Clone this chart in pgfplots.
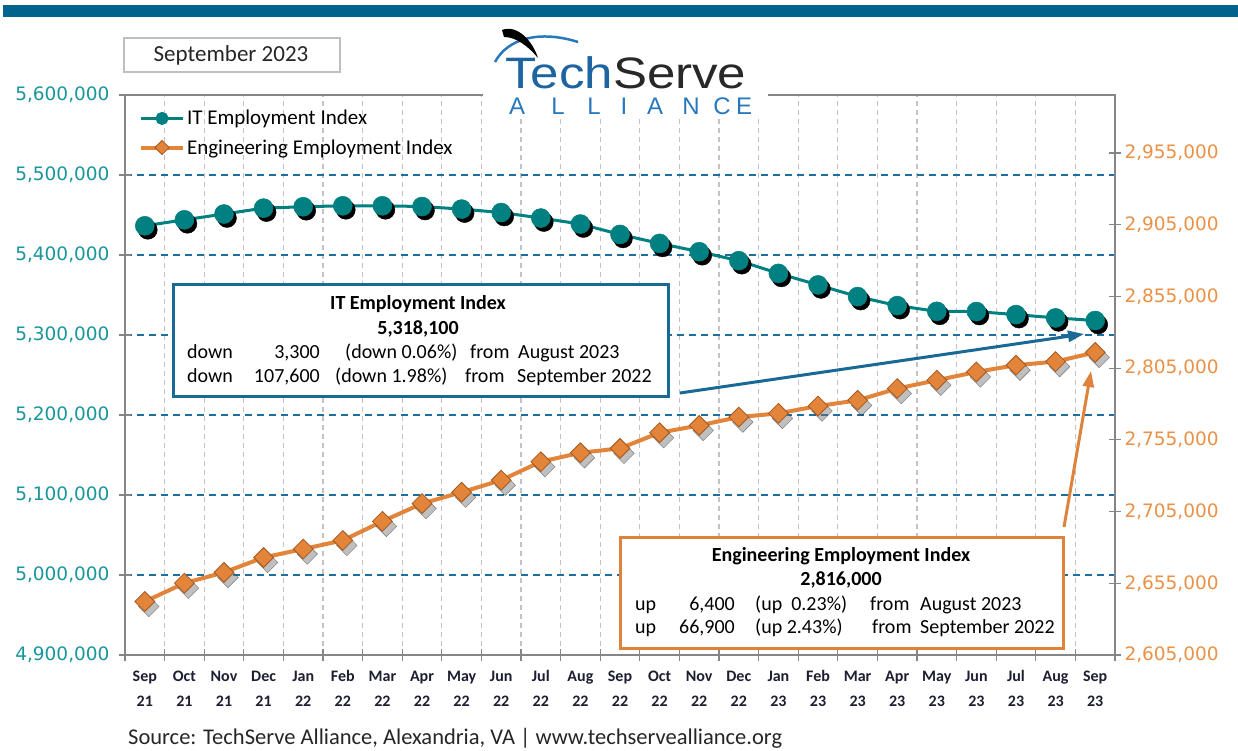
\documentclass[border=0pt]{standalone}
\usepackage{fontspec}
\setmainfont{Carlito}
\newfontfamily\tickfont{DejaVu Sans}
\newfontfamily\logofont{Liberation Sans}
\usepackage{pgfplots}
\pgfplotsset{compat=1.18}
\usepackage{pgfplotstable}
\usetikzlibrary{arrows.meta}

\definecolor{itteal}{RGB}{0,128,128}
\definecolor{engorange}{RGB}{226,132,58}
\definecolor{engdark}{RGB}{165,88,30}
\definecolor{gridblue}{RGB}{30,110,160}
\definecolor{axisgray}{RGB}{134,134,134}
\definecolor{vgrid}{RGB}{195,195,195}
\definecolor{lefttick}{RGB}{25,150,155}
\definecolor{righttick}{RGB}{235,145,70}
\definecolor{barblue}{RGB}{0,100,140}
\definecolor{boxblue}{RGB}{25,105,150}
\definecolor{boxorange}{RGB}{222,130,60}
\definecolor{logoblue}{RGB}{30,100,160}
\definecolor{logoblue2}{RGB}{40,120,190}
\definecolor{logodark}{RGB}{40,40,40}
\definecolor{xlab}{RGB}{30,30,50}

\newcommand\ml[2]{\vphantom{Abdl}#1\\#2}

\pgfplotstableread{
x y
0 5436500
1 5444000
2 5451200
3 5458600
4 5460300
5 5461500
6 5461500
7 5460600
8 5457400
9 5453100
10 5446200
11 5438700
12 5425700
13 5414500
14 5404100
15 5392900
16 5377000
17 5362600
18 5348000
19 5336700
20 5329600
21 5329300
22 5325500
23 5321400
24 5318100
}\itdata

\pgfplotstableread{
x y
0 2642300
1 2655100
2 2662600
3 2673000
4 2678900
5 2684900
6 2698200
7 2710600
8 2718500
9 2726900
10 2739800
11 2746000
12 2749100
13 2760000
14 2765100
15 2770900
16 2773500
17 2778600
18 2782600
19 2790800
20 2796600
21 2802400
22 2807100
23 2809600
24 2816000
}\engdata

\begin{document}
\begin{tikzpicture}
\begin{scope}[x=1pt,y=1pt]
\path[use as bounding box, fill=white] (0,0) rectangle (1238,750);
\fill[barblue] (3,733) rectangle (1238,745);
\draw[line width=1.2pt, draw=black!25, fill=white] (124,678) rectangle (340,712);
\node[font=\fontsize{23}{27}\selectfont, text=black!85] at (231,695) {September 2023};
\end{scope}

\begin{axis}[
  at={(125pt,95pt)}, anchor=south west, scale only axis,
  width=990pt, height=560pt,
  xmin=-0.5, xmax=24.5, ymin=4900000, ymax=5600000,
  xtick={-0.5,0.5,...,24.5}, xticklabels={},
  extra x ticks={0,1,...,24},
  extra x tick labels={{\ml{Sep}{21}},{\ml{Oct}{21}},{\ml{Nov}{21}},{\ml{Dec}{21}},{\ml{Jan}{22}},{\ml{Feb}{22}},{\ml{Mar}{22}},{\ml{Apr}{22}},{\ml{May}{22}},{\ml{Jun}{22}},{\ml{Jul}{22}},{\ml{Aug}{22}},{\ml{Sep}{22}},{\ml{Oct}{22}},{\ml{Nov}{22}},{\ml{Dec}{22}},{\ml{Jan}{23}},{\ml{Feb}{23}},{\ml{Mar}{23}},{\ml{Apr}{23}},{\ml{May}{23}},{\ml{Jun}{23}},{\ml{Jul}{23}},{\ml{Aug}{23}},{\ml{Sep}{23}}},
  extra x tick style={grid=none, major tick length=0pt},
  xticklabel style={align=center, font=\bfseries\fontsize{16}{25}\selectfont, text=xlab, yshift=-12pt},
  ytick={4900000,5000000,5100000,5200000,5300000,5400000,5500000,5600000},
  scaled y ticks=false,
  /pgf/number format/assume math mode=true,
  yticklabel style={/pgf/number format/fixed, /pgf/number format/precision=0, /pgf/number format/1000 sep={,}, font=\tickfont\fontsize{18.5}{22}\selectfont, text=lefttick, xshift=-6pt},
  xtick pos=bottom, ytick pos=left,
  tick align=center, major tick length=12pt,
  tick style={axisgray, line width=1.2pt},
  axis line style={axisgray, line width=1.8pt},
  xmajorgrids=true, ymajorgrids=true,
  x grid style={vgrid, line width=1.1pt, dash pattern=on 5pt off 4pt},
  y grid style={gridblue, line width=1.5pt, dash pattern=on 7pt off 5pt},
]
\addplot[forget plot, only marks, mark=*, mark size=9.5pt, mark options={fill=black, draw=black}, xshift=3pt, yshift=-4pt] table[x=x,y=y] {\itdata};
\addplot[itteal, line width=3pt, mark=*, mark size=9.5pt, mark options={fill=itteal, draw=itteal, line width=0.5pt}] table[x=x,y=y] {\itdata};
\end{axis}

\begin{axis}[
  at={(125pt,95pt)}, anchor=south west, scale only axis,
  width=990pt, height=560pt,
  xmin=-0.5, xmax=24.5, ymin=2605000, ymax=2995500,
  axis x line=none, axis y line*=right,
  ytick={2605000,2655000,2705000,2755000,2805000,2855000,2905000,2955000},
  scaled y ticks=false,
  /pgf/number format/assume math mode=true,
  yticklabel style={/pgf/number format/fixed, /pgf/number format/precision=0, /pgf/number format/1000 sep={,}, font=\tickfont\fontsize{18.5}{22}\selectfont, text=righttick},
  tick align=center, major tick length=12pt,
  tick style={axisgray, line width=1.2pt},
  axis line style={axisgray, line width=1.8pt},
  legend style={at={(0.012,0.98)}, anchor=north west, draw=none, fill=none,
    font=\fontsize{21}{24}\selectfont, row sep=9pt, inner sep=2pt},
  legend cell align=left,
  legend image code/.code={\draw[mark repeat=2,mark phase=2,#1] plot coordinates {(0pt,0pt)(21pt,0pt)(42pt,0pt)};},
  legend image post style={mark size=5pt},
]
\addlegendimage{itteal, line width=3pt, mark=*, mark options={fill=itteal, draw=itteal}}
\addlegendentry{IT Employment Index}
\addplot[forget plot, only marks, mark=square*, mark size=7.3pt, mark options={rotate=45, fill=black!55, draw=none, opacity=0.45}, xshift=4pt, yshift=-5pt] table[x=x,y=y] {\engdata};
\addplot[engorange, line width=4pt, mark=square*, mark size=7pt, mark options={rotate=45, fill=engorange, draw=engdark, line width=0.8pt}] table[x=x,y=y] {\engdata};
\addlegendentry{Engineering Employment Index}
\end{axis}

\begin{scope}[x=1pt,y=1pt]
% logo
\fill[white] (483,632) rectangle (768,730);
\node[anchor=base west, inner sep=0, font=\logofont\fontsize{44}{46}\selectfont] at (505,661) {\scalebox{1.16}[1]{\textcolor{logoblue}{Tech}\textcolor{logodark}{Serve}}};
\foreach \l/\px in {A/517,L/558,L/594,I/624,A/655,N/691,C/722,E/744}
  \node[anchor=base, inner sep=0, font=\logofont\fontsize{24}{24}\selectfont, text=logoblue2] at (\px,635) {\l};
\draw[logoblue2, line width=2.5pt] (495,688) .. controls (508,712) and (540,720) .. (578,708);
\fill[black] (502,720) .. controls (518,726) and (533,708) .. (538,692) .. controls (528,704) and (516,713) .. (504,713) -- cycle;

% IT box
\draw[boxblue, line width=3pt, fill=white] (173,353) rectangle (668,465);
\begin{scope}[every node/.style={inner sep=0, font=\fontsize{20}{24}\selectfont, text=black}]
\node[anchor=base, font=\bfseries\fontsize{20}{24}\selectfont] at (418,440.5) {IT Employment Index};
\node[anchor=base, font=\bfseries\fontsize{20}{24}\selectfont] at (418,415.5) {5,318,100};
\node[anchor=base west] at (187,391.5) {down};
\node[anchor=base east] at (320,391.5) {3,300};
\node[anchor=base west] at (345,391.5) {(down 0.06\%)};
\node[anchor=base west] at (470,391.5) {from};
\node[anchor=base west] at (518,391.5) {August 2023};
\node[anchor=base west] at (187,367.5) {down};
\node[anchor=base east] at (320,367.5) {107,600};
\node[anchor=base west] at (335,367.5) {(down 1.98\%)};
\node[anchor=base west] at (465,367.5) {from};
\node[anchor=base west] at (517,367.5) {September 2022};
\end{scope}

% Engineering box
\draw[boxorange, line width=3pt, fill=white] (620,102) rectangle (1063,213);
\begin{scope}[every node/.style={inner sep=0, font=\fontsize{20}{24}\selectfont, text=black}]
\node[anchor=base, font=\bfseries\fontsize{20}{24}\selectfont] at (841,188.5) {Engineering Employment Index};
\node[anchor=base, font=\bfseries\fontsize{20}{24}\selectfont] at (841,164.5) {2,816,000};
\node[anchor=base west] at (635,139.5) {up};
\node[anchor=base east] at (735,139.5) {6,400};
\node[anchor=base west] at (755,139.5) {(up~~0.23\%)};
\node[anchor=base west] at (870,139.5) {from};
\node[anchor=base west] at (920,139.5) {August 2023};
\node[anchor=base west] at (635,116.5) {up};
\node[anchor=base east] at (735,116.5) {66,900};
\node[anchor=base west] at (755,116.5) {(up 2.43\%)};
\node[anchor=base west] at (872,116.5) {from};
\node[anchor=base west] at (920,116.5) {September 2022};
\end{scope}

% arrows
\draw[boxblue, line width=3pt, -{Triangle[length=16pt,width=11pt]}] (680,357) -- (1084,416);
\draw[boxorange, line width=3pt, -{Triangle[length=16pt,width=11pt]}] (1064,223) -- (1091,379);

% source
\node[anchor=base west, inner sep=0, font=\fontsize{22.5}{26}\selectfont, text=black!85] at (128,6) {Source: TechServe Alliance, Alexandria, VA | www.techservealliance.org};
\end{scope}
\end{tikzpicture}
\end{document}
